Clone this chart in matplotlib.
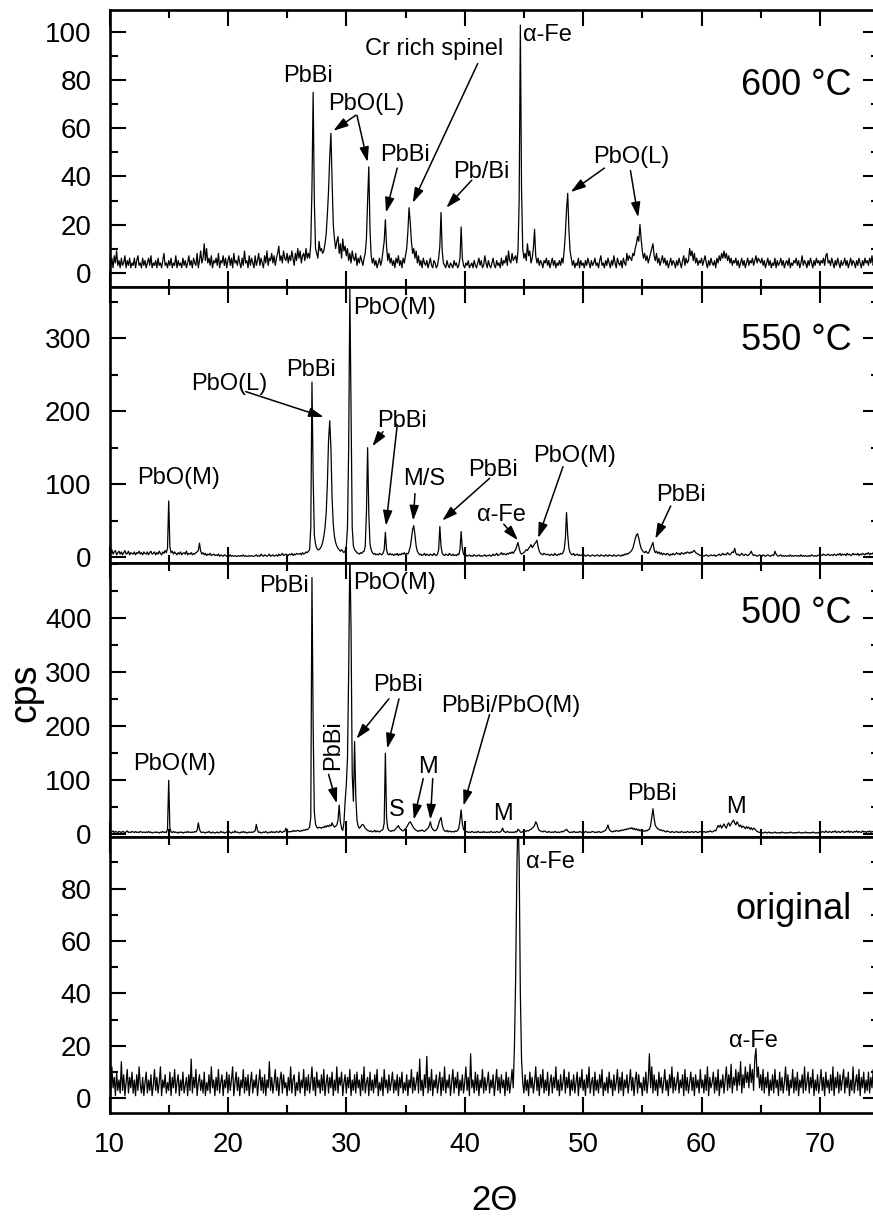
import numpy as np
import matplotlib
matplotlib.use('Agg')
import matplotlib.pyplot as plt
from matplotlib.ticker import MultipleLocator

plt.rcParams['font.family'] = ['Liberation Sans', 'DejaVu Sans']

# scan axis: 2-theta from 10 to 75 deg, 0.1 deg step
two_theta = np.linspace(10, 75, 651)

# counts per second, one row per degree (x.0 ... x.9)
cps_600 = [
    8, 3, 6, 2, 7, 4, 9, 3, 5, 2,   # 10
    6, 3, 4, 7, 2, 5, 3, 6, 2, 4,
    3, 6, 2, 5, 7, 3, 4, 2, 6, 3,
    5, 2, 4, 6, 3, 7, 2, 4, 3, 5,
    2, 6, 3, 4, 2, 5, 8, 3, 4, 2,
    5, 3, 6, 2, 4, 3, 7, 2, 5, 3,   # 15
    4, 2, 6, 3, 5, 2, 4, 7, 3, 5,
    2, 6, 4, 3, 8, 2, 5, 9, 4, 6,
    12, 5, 10, 4, 6, 3, 7, 2, 5, 4,
    6, 3, 8, 2, 5, 4, 7, 3, 6, 2,
    5, 7, 3, 6, 2, 8, 4, 5, 3, 7,   # 20
    4, 2, 6, 3, 9, 4, 5, 2, 7, 3,
    6, 4, 2, 7, 3, 5, 8, 3, 6, 4,
    2, 7, 4, 9, 3, 6, 5, 8, 4, 7,
    3, 6, 8, 11, 5, 7, 4, 9, 6, 5,
    8, 4, 7, 5, 9, 6, 3, 8, 5, 10,  # 25
    6, 9, 4, 7, 8, 5, 10, 6, 8, 6,
    12, 35, 75, 30, 10, 8, 6, 13, 9, 10,
    8, 9, 12, 16, 24, 34, 48, 58, 38, 20,
    14, 10, 13, 15, 8, 12, 6, 14, 9, 11,
    7, 10, 5, 8, 4, 9, 6, 5, 8, 3,  # 30
    6, 4, 7, 5, 3, 6, 8, 14, 30, 44,
    18, 7, 4, 6, 3, 5, 2, 4, 6, 3,
    5, 9, 13, 22, 11, 5, 8, 4, 6, 3,
    5, 2, 6, 4, 7, 3, 5, 2, 6, 4,
    7, 10, 17, 27, 21, 13, 8, 10, 6, 9,  # 35
    4, 7, 3, 5, 2, 6, 4, 3, 5, 2,
    4, 6, 3, 2, 5, 4, 2, 3, 6, 11,
    25, 9, 4, 3, 2, 5, 3, 2, 4, 3,
    2, 5, 3, 4, 2, 3, 6, 19, 6, 3,
    2, 4, 3, 5, 2, 3, 4, 2, 5, 3,   # 40
    2, 4, 6, 3, 5, 2, 3, 7, 4, 2,
    5, 3, 2, 4, 6, 3, 2, 5, 3, 4,
    2, 6, 3, 5, 4, 7, 3, 9, 5, 4,
    8, 5, 6, 7, 4, 9, 30, 103, 35, 10,
    6, 8, 5, 12, 7, 9, 4, 6, 10, 18,  # 45
    7, 4, 6, 3, 5, 4, 2, 5, 4, 6,
    3, 5, 2, 4, 6, 3, 5, 2, 4, 3,
    5, 3, 6, 4, 9, 16, 26, 33, 18, 9,
    6, 3, 5, 2, 4, 3, 6, 2, 5, 3,
    4, 2, 5, 3, 6, 4, 2, 5, 3, 4,   # 50
    6, 3, 4, 2, 5, 7, 3, 4, 2, 5,
    3, 6, 4, 2, 5, 3, 7, 4, 2, 6,
    4, 3, 5, 2, 6, 4, 3, 8, 5, 7,
    6, 5, 8, 7, 10, 12, 15, 13, 20, 14,
    9, 6, 8, 5, 7, 4, 6, 8, 10, 12,  # 55
    7, 5, 8, 4, 6, 3, 5, 7, 4, 6,
    3, 5, 2, 4, 6, 3, 5, 4, 2, 5,
    3, 6, 4, 2, 5, 7, 3, 6, 4, 5,
    10, 7, 9, 5, 8, 4, 6, 3, 5, 4,
    6, 3, 5, 7, 4, 2, 5, 3, 6, 4,   # 60
    3, 5, 2, 6, 4, 7, 5, 8, 6, 9,
    6, 8, 5, 7, 4, 6, 3, 5, 4, 6,
    3, 5, 2, 4, 6, 3, 5, 2, 4, 6,
    3, 5, 4, 6, 3, 5, 7, 4, 6, 5,
    4, 6, 3, 5, 2, 4, 6, 3, 5, 2,   # 65
    4, 3, 6, 2, 5, 3, 4, 6, 3, 5,
    2, 4, 5, 3, 6, 2, 4, 3, 5, 4,
    6, 3, 5, 2, 4, 7, 3, 5, 4, 2,
    5, 3, 6, 4, 2, 5, 3, 6, 4, 5,
    3, 5, 4, 6, 3, 7, 8, 4, 5, 3,   # 70
    6, 4, 2, 5, 3, 6, 4, 2, 5, 3,
    4, 6, 3, 5, 2, 4, 6, 3, 5, 4,
    2, 5, 3, 6, 4, 2, 5, 3, 6, 4,
    5, 3, 6, 4, 7, 3, 5, 4, 6, 5,
    4,
]

cps_550 = [
    8, 5, 10, 4, 7, 9, 3, 6, 8, 4,  # 10
    7, 3, 6, 9, 4, 5, 8, 3, 6, 5,
    4, 7, 3, 6, 5, 8, 4, 6, 3, 7,
    5, 4, 7, 3, 6, 8, 4, 5, 7, 3,
    6, 4, 8, 5, 3, 7, 5, 9, 6, 12,
    77, 14, 6, 8, 4, 7, 5, 3, 6, 4,  # 15
    7, 3, 5, 6, 4, 8, 3, 5, 4, 6,
    3, 5, 4, 6, 7, 9, 19, 8, 4, 6,
    3, 5, 2, 4, 3, 5, 2, 3, 4, 2,
    3, 2, 4, 1, 3, 2, 1, 3, 2, 1,
    2, 1, 3, 1, 2, 1, 2, 1, 1, 2,   # 20
    1, 2, 1, 3, 1, 2, 1, 1, 2, 1,
    2, 1, 1, 2, 3, 1, 2, 1, 4, 2,
    1, 3, 2, 1, 2, 4, 1, 2, 3, 1,
    2, 3, 1, 4, 2, 3, 5, 2, 3, 4,
    3, 2, 4, 3, 5, 2, 4, 3, 5, 4,   # 25
    4, 5, 3, 6, 4, 5, 7, 6, 8, 10,
    40, 240, 110, 30, 18, 12, 10, 10, 12, 15,
    20, 28, 40, 60, 100, 160, 187, 150, 80, 45,
    28, 20, 15, 12, 10, 8, 10, 8, 6, 8,
    15, 40, 150, 368, 200, 40, 15, 10, 8, 6,  # 30
    5, 4, 6, 5, 7, 8, 15, 60, 150, 60,
    18, 10, 6, 4, 5, 3, 4, 3, 5, 4,
    3, 5, 10, 34, 10, 4, 3, 5, 3, 4,
    2, 4, 3, 5, 2, 4, 3, 5, 4, 6,
    3, 5, 4, 8, 14, 25, 38, 43, 30, 15,  # 35
    8, 5, 3, 4, 2, 3, 5, 2, 4, 3,
    2, 4, 3, 2, 5, 3, 2, 4, 10, 42,
    15, 5, 3, 2, 4, 3, 2, 5, 3, 2,
    4, 2, 3, 2, 4, 3, 10, 35, 12, 4,
    2, 3, 1, 2, 3, 1, 2, 1, 3, 2,   # 40
    1, 2, 3, 1, 2, 1, 2, 3, 1, 2,
    2, 3, 1, 2, 4, 2, 3, 5, 2, 3,
    4, 6, 3, 5, 4, 3, 5, 4, 6, 5,
    7, 5, 8, 10, 15, 20, 12, 6, 4, 5,
    6, 8, 10, 9, 12, 14, 17, 13, 15, 18,  # 45
    20, 23, 14, 8, 5, 4, 3, 5, 4, 3,
    4, 3, 2, 4, 3, 2, 5, 3, 2, 4,
    3, 5, 4, 6, 10, 25, 61, 30, 12, 6,
    4, 3, 5, 2, 3, 4, 2, 3, 2, 3,
    2, 3, 1, 2, 3, 2, 1, 2, 3, 2,   # 50
    1, 2, 3, 2, 1, 3, 2, 2, 1, 3,
    2, 1, 3, 2, 2, 1, 3, 2, 1, 2,
    3, 2, 1, 3, 2, 4, 3, 5, 4, 6,
    7, 9, 12, 18, 25, 30, 32, 26, 18, 12,
    9, 7, 6, 8, 6, 5, 8, 12, 16, 20,  # 55
    10, 6, 8, 5, 7, 4, 6, 3, 5, 4,
    3, 5, 4, 2, 4, 3, 5, 3, 4, 6,
    4, 5, 3, 6, 5, 4, 6, 5, 7, 6,
    5, 7, 6, 8, 9, 6, 5, 4, 3, 2,
    3, 2, 1, 2, 3, 2, 1, 2, 3, 2,   # 60
    2, 3, 1, 2, 3, 4, 2, 3, 5, 3,
    4, 3, 6, 4, 3, 5, 7, 6, 12, 5,
    3, 4, 2, 3, 5, 3, 2, 4, 3, 2,
    3, 5, 8, 4, 2, 3, 2, 1, 2, 3,
    2, 1, 3, 2, 1, 2, 3, 2, 1, 2,   # 65
    3, 2, 8, 4, 2, 1, 2, 3, 1, 2,
    1, 2, 1, 2, 1, 3, 1, 2, 1, 2,
    2, 1, 2, 1, 3, 1, 2, 1, 2, 1,
    1, 2, 1, 3, 2, 1, 2, 1, 2, 3,
    2, 3, 2, 4, 3, 2, 3, 4, 2, 3,   # 70
    3, 2, 4, 3, 2, 4, 3, 5, 2, 4,
    3, 4, 2, 5, 3, 4, 2, 3, 5, 3,
    4, 3, 5, 2, 4, 3, 5, 4, 3, 5,
    4, 6, 3, 5, 4, 6, 3, 5, 4, 6,
    5,
]

cps_500 = [
    4, 2, 3, 5, 2, 4, 3, 2, 4, 3,   # 10
    2, 4, 3, 2, 3, 5, 2, 3, 2, 4,
    3, 2, 4, 2, 3, 2, 4, 3, 2, 3,
    2, 3, 2, 4, 2, 3, 1, 2, 3, 2,
    3, 2, 1, 3, 2, 4, 2, 3, 2, 8,
    99, 10, 3, 2, 4, 2, 3, 2, 1, 3,  # 15
    2, 3, 1, 2, 3, 2, 4, 2, 3, 2,
    3, 2, 4, 3, 6, 20, 8, 3, 2, 3,
    2, 1, 3, 2, 4, 2, 1, 3, 2, 1,
    2, 3, 1, 2, 4, 2, 3, 1, 2, 3,
    2, 4, 2, 1, 3, 2, 5, 2, 3, 2,   # 20
    1, 3, 2, 4, 2, 3, 1, 2, 3, 2,
    3, 2, 4, 5, 17, 6, 2, 3, 1, 2,
    3, 2, 4, 2, 1, 3, 2, 4, 2, 3,
    2, 4, 3, 2, 5, 3, 2, 4, 4, 10,
    5, 3, 4, 3, 5, 4, 6, 4, 5, 6,   # 25
    5, 4, 6, 5, 7, 6, 8, 7, 9, 12,
    30, 475, 200, 40, 18, 12, 10, 12, 11, 10,
    12, 11, 14, 12, 15, 13, 16, 14, 20, 15,
    12, 14, 16, 25, 53, 22, 10, 6, 20, 60,
    90, 140, 300, 530, 380, 110, 60, 171, 70, 25,  # 30
    14, 10, 12, 16, 17, 14, 10, 8, 6, 5,
    4, 5, 3, 4, 6, 3, 5, 4, 3, 5,
    6, 8, 20, 149, 30, 10, 6, 5, 4, 6,
    5, 7, 10, 12, 15, 10, 8, 6, 5, 7,
    9, 12, 16, 20, 22, 18, 14, 10, 8, 6,  # 35
    5, 4, 6, 5, 7, 5, 4, 6, 8, 10,
    14, 22, 12, 8, 6, 5, 7, 10, 18, 25,
    30, 16, 8, 5, 4, 6, 3, 5, 4, 3,
    4, 3, 5, 4, 6, 10, 25, 44, 18, 8,
    5, 3, 4, 2, 3, 2, 4, 3, 2, 3,   # 40
    2, 4, 3, 2, 3, 2, 4, 2, 3, 2,
    3, 2, 4, 3, 2, 3, 2, 4, 3, 2,
    3, 5, 10, 4, 3, 2, 4, 3, 2, 3,
    2, 3, 2, 4, 3, 8, 6, 3, 2, 4,
    3, 5, 4, 6, 5, 7, 8, 10, 12, 15,  # 45
    22, 18, 10, 6, 5, 4, 3, 5, 4, 3,
    2, 4, 3, 2, 3, 2, 4, 3, 2, 3,
    2, 3, 4, 3, 5, 6, 8, 5, 3, 2,
    3, 2, 4, 3, 2, 3, 2, 4, 3, 2,
    3, 2, 4, 3, 2, 3, 2, 3, 4, 3,   # 50
    2, 3, 2, 4, 3, 2, 3, 4, 5, 6,
    10, 16, 8, 5, 4, 3, 5, 4, 6, 5,
    4, 6, 5, 7, 6, 8, 7, 9, 8, 10,
    9, 11, 8, 10, 7, 9, 6, 8, 5, 7,
    6, 5, 4, 6, 5, 7, 8, 15, 30, 46,  # 55
    28, 15, 12, 9, 8, 6, 7, 5, 6, 4,
    3, 5, 4, 3, 2, 4, 3, 2, 3, 4,
    2, 3, 2, 4, 3, 2, 3, 2, 4, 3,
    2, 3, 4, 2, 3, 4, 3, 2, 3, 4,
    3, 2, 4, 3, 2, 4, 3, 5, 4, 3,   # 60
    4, 6, 5, 10, 15, 12, 16, 10, 14, 18,
    13, 10, 17, 20, 14, 18, 22, 25, 20, 16,
    22, 18, 13, 16, 11, 14, 12, 9, 13, 10,
    12, 8, 11, 7, 10, 9, 6, 4, 3, 2,
    3, 2, 1, 2, 3, 1, 2, 3, 1, 2,   # 65
    1, 2, 3, 1, 2, 1, 2, 1, 3, 2,
    1, 2, 1, 2, 1, 3, 2, 1, 2, 1,
    2, 1, 3, 2, 1, 2, 1, 2, 3, 1,
    2, 1, 2, 1, 3, 2, 1, 2, 1, 2,
    3, 2, 4, 3, 2, 5, 3, 2, 4, 3,   # 70
    2, 4, 3, 5, 2, 3, 4, 2, 3, 5,
    3, 2, 4, 3, 5, 2, 4, 3, 2, 4,
    3, 5, 2, 4, 3, 2, 5, 3, 4, 2,
    4, 3, 5, 2, 4, 3, 5, 4, 3, 5,
    4,
]

cps_orig = [
    9, 2, 12, 4, 8, 1, 10, 3, 7, 2,  # 10
    14, 3, 9, 1, 6, 11, 2, 8, 4, 10,
    2, 7, 1, 9, 3, 12, 5, 2, 8, 1,
    6, 10, 2, 7, 3, 9, 1, 5, 11, 3,
    8, 2, 6, 12, 1, 7, 4, 9, 2, 6,
    3, 10, 1, 8, 4, 11, 2, 6, 9, 1,  # 15
    7, 3, 10, 2, 5, 8, 1, 9, 3, 15,
    2, 8, 4, 11, 1, 6, 9, 3, 7, 2,
    10, 1, 6, 3, 9, 2, 12, 4, 7, 1,
    8, 3, 11, 2, 6, 9, 1, 7, 4, 10,
    2, 9, 3, 7, 12, 1, 6, 10, 3, 8,  # 20
    1, 7, 4, 11, 2, 8, 3, 9, 1, 6,
    10, 2, 7, 4, 9, 1, 6, 11, 3, 8,
    2, 9, 1, 7, 4, 14, 3, 8, 2, 6,
    11, 3, 8, 1, 7, 10, 2, 9, 4, 6,
    1, 8, 3, 12, 2, 7, 9, 1, 6, 3,  # 25
    10, 2, 7, 4, 11, 1, 8, 3, 9, 2,
    6, 12, 3, 8, 1, 10, 4, 7, 2, 9,
    3, 11, 1, 6, 9, 2, 8, 4, 10, 1,
    7, 3, 12, 2, 8, 5, 10, 1, 6, 9,
    2, 8, 4, 11, 1, 7, 3, 9, 2, 10,  # 30
    4, 7, 1, 9, 3, 12, 2, 6, 8, 1,
    10, 3, 7, 2, 9, 4, 11, 1, 6, 3,
    8, 1, 11, 4, 7, 2, 9, 3, 6, 10,
    2, 7, 3, 9, 1, 8, 4, 10, 2, 6,
    3, 9, 1, 7, 4, 11, 2, 8, 3, 6,  # 35
    10, 2, 15, 3, 7, 1, 9, 4, 16, 2,
    8, 3, 11, 1, 7, 4, 9, 2, 6, 10,
    1, 8, 3, 12, 2, 7, 4, 9, 1, 6,
    11, 2, 8, 4, 10, 1, 7, 3, 9, 2,
    6, 12, 3, 8, 1, 17, 4, 7, 2, 10,  # 40
    3, 9, 1, 7, 4, 11, 2, 8, 3, 6,
    10, 2, 7, 4, 9, 1, 6, 11, 3, 8,
    2, 9, 4, 7, 1, 10, 3, 8, 2, 6,
    11, 4, 20, 45, 85, 110, 90, 40, 15, 6,
    2, 9, 3, 7, 1, 10, 4, 8, 2, 6,  # 45
    12, 3, 8, 1, 9, 4, 11, 2, 7, 3,
    10, 1, 6, 9, 2, 8, 4, 12, 3, 7,
    1, 9, 3, 6, 11, 2, 8, 4, 10, 1,
    7, 3, 9, 2, 6, 10, 1, 8, 4, 11,
    3, 7, 1, 9, 4, 12, 2, 6, 8, 1,  # 50
    10, 3, 7, 2, 9, 4, 11, 1, 6, 3,
    8, 2, 10, 4, 7, 1, 9, 3, 6, 11,
    2, 8, 3, 10, 1, 7, 4, 9, 2, 6,
    11, 3, 8, 1, 7, 10, 2, 9, 4, 6,
    1, 8, 3, 10, 2, 7, 17, 4, 12, 2,  # 55
    9, 3, 7, 1, 10, 4, 8, 2, 6, 11,
    3, 7, 1, 9, 4, 12, 2, 8, 3, 6,
    10, 2, 7, 4, 9, 1, 11, 3, 8, 2,
    6, 10, 3, 8, 1, 9, 4, 7, 2, 11,
    4, 7, 2, 9, 3, 12, 1, 8, 4, 6,  # 60
    10, 2, 8, 3, 11, 1, 7, 4, 9, 2,
    7, 12, 3, 9, 4, 13, 2, 8, 5, 11,
    3, 10, 5, 14, 2, 9, 4, 12, 6, 10,
    4, 13, 6, 11, 3, 15, 19, 8, 12, 4,
    9, 3, 11, 2, 8, 4, 10, 1, 7, 3,  # 65
    9, 2, 11, 4, 7, 1, 10, 3, 8, 2,
    6, 12, 3, 9, 1, 7, 4, 11, 2, 8,
    3, 10, 1, 7, 4, 9, 2, 12, 3, 6,
    10, 2, 8, 4, 11, 1, 7, 3, 9, 2,
    6, 11, 3, 8, 1, 10, 4, 7, 2, 9,  # 70
    3, 12, 1, 8, 4, 10, 2, 9, 3, 7,
    11, 2, 8, 4, 10, 1, 7, 3, 12, 2,
    6, 9, 3, 11, 1, 8, 4, 10, 2, 7,
    3, 10, 2, 8, 4, 11, 1, 9, 3, 6,
    8,
]

for name, arr in [('600', cps_600), ('550', cps_550), ('500', cps_500), ('orig', cps_orig)]:
    assert len(arr) == len(two_theta), (name, len(arr))

x_ticks = [10, 20, 30, 40, 50, 60, 70]
yticks_600 = [0, 20, 40, 60, 80, 100]
yticks_550 = [0, 100, 200, 300]
yticks_500 = [0, 100, 200, 300, 400]
yticks_orig = [0, 20, 40, 60, 80]

fig = plt.figure(figsize=(8.73, 12.22), dpi=100)
W, H = 873.0, 1222.0
X0, XW = 109.5, 769.6  # pixel left edge and width of plot area


def panel(top, bottom):
    return fig.add_axes([X0 / W, 1 - bottom / H, XW / W, (bottom - top) / H])


def arrow(ax, start, tip):
    ax.annotate('', xy=tip, xytext=start,
                arrowprops=dict(arrowstyle='-|>,head_length=0.9,head_width=0.28',
                                color='k', lw=1.1, shrinkA=0, shrinkB=0))


# (data, pixel top, pixel bottom, ylim, major ticks, minor step, label, label y)
panels = [
    (cps_600, 10, 287, (-6, 109.3), yticks_600, 10, '600 °C', 78),
    (cps_550, 287, 563, (-8.2, 370.5), yticks_550, 50, '550 °C', 297),
    (cps_500, 563, 837, (-6.3, 502), yticks_500, 50, '500 °C', 408),
    (cps_orig, 837, 1113, (-5.6, 99.7), yticks_orig, 10, 'original', 72),
]

axes = []
for i, (cps, top, bottom, ylim, yticks, minor, label, ly) in enumerate(panels):
    ax = panel(top, bottom)
    ax.plot(two_theta, cps, color='black', lw=0.9)
    ax.set_xlim(10, 75)
    ax.set_ylim(*ylim)
    ax.set_xticks(x_ticks)
    ax.xaxis.set_minor_locator(MultipleLocator(5))
    ax.set_yticks(yticks)
    ax.yaxis.set_minor_locator(MultipleLocator(minor))
    ax.tick_params(which='both', direction='in', top=True, right=True,
                   width=1.5, labelsize=20)
    ax.tick_params(which='major', length=11.5)
    ax.tick_params(which='minor', length=5.5)
    ax.tick_params(axis='y', pad=13)
    ax.tick_params(axis='x', pad=14, labelbottom=(i == 3))
    for sp in ax.spines.values():
        sp.set_linewidth(1.9)
    ax.text(72.7, ly, label, ha='right', va='center', fontsize=26)
    axes.append(ax)

ax600, ax550, ax500, axorg = axes
fs = 17

# 600 C
for t, x, y, ha in [('PbBi', 26.8, 82, 'center'), ('PbO(L)', 31.7, 70, 'center'),
                    ('PbBi', 35.0, 49, 'center'), ('Cr rich spinel', 37.4, 93, 'center'),
                    ('Pb/Bi', 41.4, 42, 'center'), ('α-Fe', 44.9, 99, 'left'),
                    ('PbO(L)', 54.1, 48, 'center')]:
    ax600.text(x, y, t, ha=ha, va='center', fontsize=fs)
for s, e in [((30.8, 65.5), (28.9, 59)), ((30.9, 65.5), (31.8, 46)),
             ((34.3, 43.5), (33.35, 25)), ((41.1, 87), (35.6, 29)),
             ((40.6, 38.5), (38.45, 27)), ((51.8, 43.5), (48.95, 33.5)),
             ((54.0, 42.5), (54.65, 23))]:
    arrow(ax600, s, e)

# 550 C
for t, x, y, ha in [('PbO(M)', 30.55, 341, 'left'), ('PbBi', 27.0, 257, 'center'),
                    ('PbO(L)', 20.15, 237, 'center'), ('PbBi', 34.7, 186, 'center'),
                    ('PbO(M)', 15.8, 108, 'center'), ('M/S', 36.6, 107, 'center'),
                    ('PbBi', 42.4, 120, 'center'), ('α-Fe', 43.1, 57, 'center'),
                    ('PbO(M)', 49.3, 139, 'center'), ('PbBi', 58.3, 85, 'center')]:
    ax550.text(x, y, t, ha=ha, va='center', fontsize=fs)
for s, e in [((21.5, 227), (28.1, 192)), ((33.1, 172), (32.2, 152)),
             ((34.3, 181), (33.35, 43)), ((35.8, 87), (35.65, 50)),
             ((42.1, 108), (38.1, 50)), ((43.3, 45), (44.5, 23)),
             ((48.3, 124), (46.2, 26)), ((57.4, 70), (56.1, 25))]:
    arrow(ax550, s, e)

# 500 C
for t, x, y, ha in [('PbBi', 24.75, 459, 'center'), ('PbO(M)', 30.6, 464, 'left'),
                    ('PbO(M)', 15.5, 130, 'center'), ('PbBi', 34.4, 275, 'center'),
                    ('PbBi/PbO(M)', 43.85, 236, 'center'), ('M', 36.9, 124, 'center'),
                    ('S', 34.3, 44, 'center'), ('M', 43.2, 37, 'center'),
                    ('PbBi', 55.8, 74, 'center'), ('M', 62.9, 49, 'center')]:
    ax500.text(x, y, t, ha=ha, va='center', fontsize=fs)
ax500.text(28.85, 164, 'PbBi', ha='center', va='center', rotation=90, fontsize=fs)
for s, e in [((28.5, 110), (29.2, 56)), ((33.6, 250), (30.85, 176)),
             ((34.45, 250), (33.45, 158)), ((42.1, 221), (39.9, 52)),
             ((36.5, 102), (35.7, 26)), ((37.3, 102), (37.1, 26))]:
    arrow(ax500, s, e)

# original
axorg.text(45.2, 90, 'α-Fe', ha='left', va='center', fontsize=fs)
axorg.text(64.4, 22, 'α-Fe', ha='center', va='center', fontsize=fs)

fig.text(25 / W, 1 - 693 / H, 'cps', rotation=90, ha='center', va='center', fontsize=27)
fig.text(494 / W, 1 - 1200 / H, '2Θ', ha='center', va='center', fontsize=25)

fig.savefig('out.png', dpi=100)
